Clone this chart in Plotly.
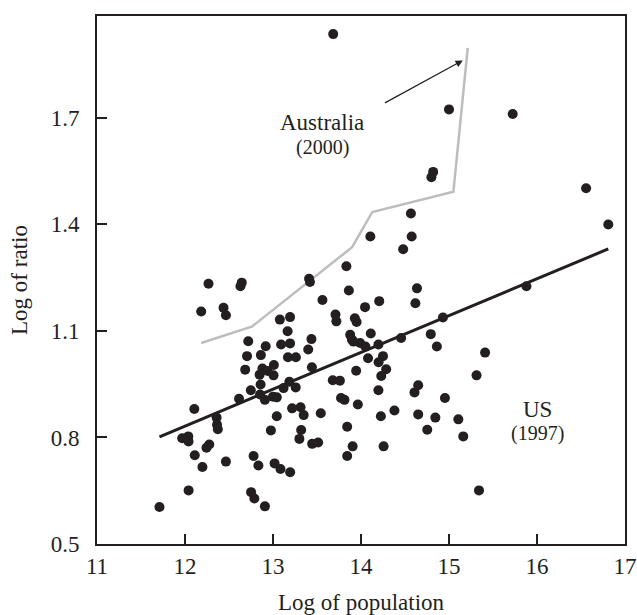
import plotly.graph_objects as go

# Scatter data: log of population vs log of ratio (US, 1997)
log_population = [
    13.684, 15.0, 15.724, 14.82, 14.80, 16.558, 16.81, 14.567, 14.106, 14.576,
    14.479, 13.834, 13.41, 13.42, 12.267, 12.645, 12.63, 15.88, 13.862, 14.636,
    14.618, 14.207, 13.562, 14.046, 12.184, 12.438, 12.465, 13.71, 13.72, 13.93,
    13.95, 13.078, 13.194, 13.166, 14.931, 14.111, 14.793, 14.456, 13.437, 12.719,
    13.877, 13.897, 13.915, 13.99, 14.05, 14.198, 14.862, 12.917, 13.092, 13.194,
    13.40, 15.41, 12.705, 12.862, 13.17, 13.26, 14.08, 14.25, 14.2, 13.01,
    13.442, 12.684, 12.88, 12.94, 14.286, 13.945, 12.848, 13.006, 14.23, 15.313,
    13.679, 13.76, 13.186, 14.65, 12.859, 13.12, 13.258, 12.748, 14.198, 14.608,
    12.853, 12.614, 12.908, 13.0, 13.043, 13.773, 13.812, 14.954, 13.964, 13.313,
    13.217, 14.38, 12.106, 13.349, 13.043, 13.543, 14.65, 14.226, 14.845, 12.359,
    12.364, 12.373, 15.106, 13.843, 14.753, 13.32, 12.976, 15.162, 11.968, 12.037,
    12.04, 13.3, 12.276, 12.244, 13.445, 13.513, 13.905, 14.257, 12.111, 12.779,
    13.843, 12.465, 12.834, 13.018, 13.085, 12.198, 13.195, 12.041, 12.751, 12.788,
    15.341, 12.908, 11.71,
]
log_ratio = [
    1.936, 1.724, 1.711, 1.548, 1.533, 1.502, 1.40, 1.431, 1.366, 1.366,
    1.330, 1.282, 1.247, 1.238, 1.233, 1.236, 1.226, 1.226, 1.214, 1.220,
    1.178, 1.184, 1.187, 1.167, 1.155, 1.165, 1.144, 1.146, 1.127, 1.136,
    1.125, 1.132, 1.139, 1.099, 1.138, 1.093, 1.091, 1.080, 1.077, 1.071,
    1.089, 1.075, 1.070, 1.066, 1.056, 1.062, 1.056, 1.057, 1.062, 1.065,
    1.048, 1.039, 1.029, 1.032, 1.026, 1.026, 1.023, 1.029, 1.012, 1.004,
    0.998, 0.991, 0.994, 0.987, 0.992, 0.988, 0.977, 0.975, 0.973, 0.975,
    0.961, 0.960, 0.957, 0.947, 0.949, 0.939, 0.941, 0.933, 0.933, 0.927,
    0.921, 0.909, 0.906, 0.915, 0.913, 0.911, 0.906, 0.911, 0.893, 0.885,
    0.882, 0.876, 0.880, 0.863, 0.860, 0.868, 0.865, 0.860, 0.856, 0.856,
    0.836, 0.823, 0.851, 0.830, 0.822, 0.821, 0.820, 0.803, 0.798, 0.803,
    0.789, 0.796, 0.780, 0.771, 0.782, 0.786, 0.775, 0.775, 0.750, 0.748,
    0.748, 0.732, 0.721, 0.727, 0.711, 0.717, 0.702, 0.651, 0.646, 0.628,
    0.651, 0.606, 0.604,
]

# US regression line (1997)
us_fit_x = [11.71, 16.81]
us_fit_y = [0.802, 1.331]

# Australia (2000) curve
aus_x = [12.184, 12.765, 13.899, 14.129, 15.05, 15.213]
aus_y = [1.066, 1.113, 1.336, 1.435, 1.492, 1.897]

x_ticks = [11, 12, 13, 14, 15, 16, 17]
y_ticks = [0.5, 0.8, 1.1, 1.4, 1.7]

# Arrow pointing to Australia curve
arrow_tail = (14.255, 1.740)
arrow_head = (15.157, 1.862)

ink = "#231f20"
serif = "Liberation Serif, Times New Roman, serif"

fig = go.Figure()
fig.add_trace(go.Scatter(
    x=aus_x, y=aus_y, mode="lines",
    line=dict(color="#bdbdbd", width=2.5), hoverinfo="skip", showlegend=False))
fig.add_trace(go.Scatter(
    x=us_fit_x, y=us_fit_y, mode="lines",
    line=dict(color=ink, width=3), showlegend=False))
fig.add_trace(go.Scatter(
    x=log_population, y=log_ratio, mode="markers",
    marker=dict(color=ink, size=10, line=dict(width=0)), showlegend=False))

fig.add_annotation(x=arrow_head[0], y=arrow_head[1], ax=arrow_tail[0], ay=arrow_tail[1],
                   xref="x", yref="y", axref="x", ayref="y", text="",
                   showarrow=True, arrowhead=2, arrowsize=1.2, arrowwidth=1.2,
                   arrowcolor=ink, standoff=0)
label_font_big = dict(family=serif, size=23, color=ink)
label_font_small = dict(family=serif, size=20, color=ink)
fig.add_annotation(x=13.56, y=1.687, text="Australia", showarrow=False,
                   font=label_font_big, borderpad=0)
fig.add_annotation(x=13.56, y=1.618, text="(2000)", showarrow=False,
                   font=label_font_small, borderpad=0)
fig.add_annotation(x=16.0, y=0.880, text="US", showarrow=False,
                   font=label_font_big, borderpad=0)
fig.add_annotation(x=16.0, y=0.810, text="(1997)", showarrow=False,
                   font=label_font_small, borderpad=0)

axis_common = dict(
    showgrid=False, zeroline=False, showline=True, linecolor=ink, linewidth=2,
    mirror=True, ticks="inside", ticklen=10, tickwidth=1.5, tickcolor=ink,
    tickfont=dict(family=serif, size=23, color=ink), automargin=False,
)
fig.update_xaxes(range=[11, 17], tickvals=x_ticks, ticktext=[str(v) for v in x_ticks],
                 ticklabeloverflow="allow",
                 title=dict(text="Log of population", font=dict(family=serif, size=23, color=ink),
                            standoff=20),
                 **axis_common)
fig.update_yaxes(range=[0.5, 1.987], tickvals=y_ticks, ticktext=[f"{v:.1f}" for v in y_ticks],
                 ticklabelstandoff=11,
                 title=dict(text="Log of ratio", font=dict(family=serif, size=23, color=ink),
                            standoff=17),
                 **axis_common)

fig.update_layout(
    width=637, height=615,
    margin=dict(l=97, r=12, t=16, b=71),
    plot_bgcolor="white", paper_bgcolor="white",
    showlegend=False,
)

# Remove the default page margin so the figure fills the 637x615 window exactly.
fig.write_html("out.html", config={"displayModeBar": False},
               post_script="document.body.style.margin='0';")
